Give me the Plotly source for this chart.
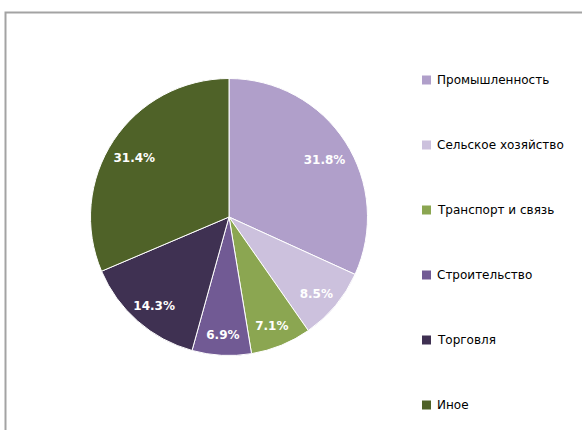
import plotly.graph_objects as go

labels = ["Промышленность", "Сельское хозяйство", "Транспорт и связь", "Строительство", "Торговля", "Иное"]
values = [31.8, 8.5, 7.1, 6.9, 14.3, 31.4]
colors = ["#B09FCA", "#CCC1DD", "#8BA651", "#715A94", "#3F3152", "#4F6228"]

W, H = 582, 430
cx, cy, r = 229, 217, 138.5
dom = dict(x=[(cx - r) / W, (cx + r) / W], y=[1 - (cy + r) / H, 1 - (cy - r) / H])
tdy = 4  # label layer sits a few pixels lower, as in the reference
dom_text = dict(x=dom["x"], y=[1 - (cy + tdy + r) / H, 1 - (cy + tdy - r) / H])

fig = go.Figure()
fig.add_trace(go.Pie(
    labels=labels, values=values, sort=False, direction="clockwise", rotation=0,
    marker=dict(colors=colors, line=dict(color="white", width=1)),
    textinfo="none", domain=dom, showlegend=False, hoverinfo="label+value",
))
fig.add_trace(go.Pie(
    labels=labels, values=values, sort=False, direction="clockwise", rotation=0, hole=0.64,
    marker=dict(colors=["rgba(0,0,0,0)"] * len(values), line=dict(width=0)),
    texttemplate="%{value:.1f}%", textposition="inside", insidetextorientation="horizontal",
    textfont=dict(family="DejaVu Sans", size=12, color="white", weight="bold"),
    domain=dom_text, showlegend=False, hoverinfo="skip",
))

shapes = [dict(type="rect", xref="paper", yref="paper",
               x0=5.5 / W, x1=1.02, y0=-0.05, y1=1 - 12.5 / H,
               line=dict(color="#A3A3A3", width=2), fillcolor="rgba(0,0,0,0)")]
annotations = []
y0, step = 80, 65
for i, (lab, col) in enumerate(zip(labels, colors)):
    yc = y0 + i * step
    shapes.append(dict(type="rect", xref="paper", yref="paper",
                       x0=422 / W, x1=431 / W,
                       y0=1 - (yc + 4.5) / H, y1=1 - (yc - 4.5) / H,
                       fillcolor=col, line=dict(width=0)))
    annotations.append(dict(xref="paper", yref="paper", x=435 / W, y=1 - yc / H,
                            xanchor="left", yanchor="middle", showarrow=False, text=lab,
                            font=dict(family="DejaVu Sans", size=12, color="#000000")))

fig.update_layout(width=W, height=H, margin=dict(l=0, r=0, t=0, b=0),
                  paper_bgcolor="white", plot_bgcolor="white",
                  uniformtext=dict(minsize=12, mode="show"),
                  shapes=shapes, annotations=annotations)
fig.write_html("out.html", config={"displayModeBar": False},
               post_script="document.body.style.margin='0';")
